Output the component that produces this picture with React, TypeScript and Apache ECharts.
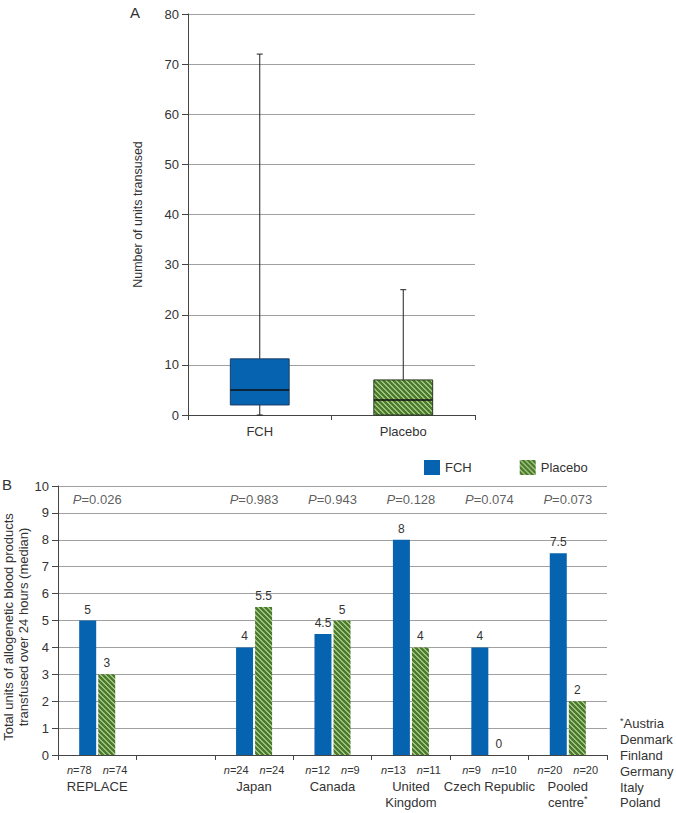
import React, { useEffect, useRef } from "react";
import * as echarts from "echarts";

// Panel A: box plot (min, Q1, median, Q3, max)
const boxCategories = ["FCH", "Placebo"];
const boxFCH = [0, 2, 5, 11.2, 72];
const boxPlacebo = [0, 0, 3, 7, 25];
const boxTicks = [0, 80, 10];

// Panel B: medians by region
const regions = ["REPLACE", "", "Japan", "Canada", "United\nKingdom", "Czech Republic", "Pooled\ncentre*"];
const fchMedian: (number | string)[] = [5, "-", 4, 4.5, 8, 4, 7.5];
const placeboMedian: (number | string)[] = [3, "-", 5.5, 5, 4, 0, 2];
const fchN = ["78", "", "24", "12", "13", "9", "20"];
const placeboN = ["74", "", "24", "9", "11", "10", "20"];
const pValues = ["0.026", "", "0.983", "0.943", "0.128", "0.074", "0.073"];
const pooledCountries = ["Austria", "Denmark", "Finland", "Germany", "Italy", "Poland"];

const FONT = "'Liberation Sans', Arial, Helvetica, sans-serif";
const BLUE = "#0663AF";
const TXT = "#333";

function makePattern() {
  const c = document.createElement("canvas");
  const s = 5;
  c.width = s;
  c.height = s;
  const ctx = c.getContext("2d")!;
  const img = ctx.createImageData(s, s);
  for (let y = 0; y < s; y++) {
    for (let x = 0; x < s; x++) {
      const k = (((x - y) % s) + s) % s;
      const light = k === 0 || k === 1;
      const i = (y * s + x) * 4;
      if (light) {
        img.data[i] = 0x9c; img.data[i + 1] = 0xc2; img.data[i + 2] = 0x7c;
      } else {
        img.data[i] = 0x4c; img.data[i + 1] = 0x7a; img.data[i + 2] = 0x2e;
      }
      img.data[i + 3] = 255;
    }
  }
  ctx.putImageData(img, 0, 0);
  return { image: c, repeat: "repeat" } as any;
}

export default function App() {
  const ref = useRef<HTMLDivElement>(null);
  useEffect(() => {
    if (!ref.current) return;
    const chart = echarts.init(ref.current, undefined, { renderer: "svg" });
    const pattern = makePattern();

    const boxData = [
      [0, ...boxFCH],
      [1, ...boxPlacebo],
    ];
    const pData = pValues
      .map((p, i) => (p ? [i, 9.5] : null))
      .filter((d) => d !== null) as number[][];

    const option: any = {
      animation: false,
      textStyle: { fontFamily: FONT, color: TXT },
      legend: {
        data: ["FCH", "Placebo"],
        left: 419,
        top: 455,
        itemWidth: 16,
        itemHeight: 15,
        itemGap: 48,
        icon: "rect",
        textStyle: { fontFamily: FONT, fontSize: 13, color: TXT },
      },
      grid: [
        { left: 188, top: 14, width: 287, height: 401 },
        { left: 58, top: 486, width: 549, height: 269 },
      ],
      xAxis: [
        {
          gridIndex: 0,
          type: "category",
          data: boxCategories,
          axisLine: { lineStyle: { color: "#444" } },
          axisTick: { show: true, length: 5, lineStyle: { color: "#444" } },
          axisLabel: { fontSize: 13, color: TXT, fontFamily: FONT, margin: 10 },
        },
        {
          gridIndex: 1,
          type: "category",
          data: regions,
          axisLine: { lineStyle: { color: "#444" } },
          axisTick: { show: true, length: 5, lineStyle: { color: "#444" } },
          axisLabel: {
            interval: 0,
            margin: 7,
            fontSize: 13,
            lineHeight: 16,
            color: TXT,
            fontFamily: FONT,
            formatter: (value: string, index: number) => {
              if (!value) return "";
              const name = value.replace("*", "{sup|*}");
              return `{i|n}{t|=${fchN[index]}}{g|}{i|n}{t|=${placeboN[index]}}\n${name}`;
            },
            rich: {
              i: { fontSize: 11, fontStyle: "italic", color: TXT, fontFamily: FONT, lineHeight: 16 },
              t: { fontSize: 11, color: TXT, fontFamily: FONT, lineHeight: 16 },
              g: { width: 11 },
              sup: { fontSize: 9, color: TXT, fontFamily: FONT, verticalAlign: "top", lineHeight: 16 },
            },
          },
        },
      ],
      yAxis: [
        {
          gridIndex: 0,
          type: "value",
          min: boxTicks[0],
          max: boxTicks[1],
          interval: boxTicks[2],
          name: "Number of units transused",
          nameLocation: "middle",
          nameGap: 44,
          nameTextStyle: { fontSize: 12.5, color: TXT, fontFamily: FONT },
          axisLine: { show: true, lineStyle: { color: "#444" } },
          axisTick: { show: true, length: 6, lineStyle: { color: "#444" } },
          axisLabel: { fontSize: 13, color: TXT, fontFamily: FONT, margin: 9 },
          splitLine: { lineStyle: { color: "#a0a0a0" } },
        },
        {
          gridIndex: 1,
          type: "value",
          min: 0,
          max: 10,
          interval: 1,
          axisLine: { show: true, lineStyle: { color: "#444" } },
          axisTick: { show: true, length: 6, lineStyle: { color: "#444" } },
          axisLabel: { fontSize: 13, color: TXT, fontFamily: FONT, margin: 9 },
          splitLine: { lineStyle: { color: "#a0a0a0" } },
        },
      ],
      series: [
        {
          name: "box",
          type: "custom",
          xAxisIndex: 0,
          yAxisIndex: 0,
          data: boxData,
          encode: { x: 0, y: [1, 2, 3, 4, 5] },
          renderItem: (params: any, api: any) => {
            const xi = api.value(0);
            const lo = api.coord([xi, api.value(1)]);
            const q1 = api.coord([xi, api.value(2)]);
            const med = api.coord([xi, api.value(3)]);
            const q3 = api.coord([xi, api.value(4)]);
            const hi = api.coord([xi, api.value(5)]);
            const bw = api.size([1, 0])[0] * 0.41;
            const cx = hi[0];
            const fill = params.dataIndex === 0 ? BLUE : pattern;
            const stroke = params.dataIndex === 0 ? "#1d3d66" : "#2a3a20";
            const ls = { stroke: "#222", lineWidth: 1 };
            return {
              type: "group",
              children: [
                { type: "line", shape: { x1: cx, y1: hi[1], x2: cx, y2: q3[1] }, style: ls },
                { type: "line", shape: { x1: cx - 3, y1: hi[1], x2: cx + 3, y2: hi[1] }, style: ls },
                { type: "line", shape: { x1: cx, y1: q1[1], x2: cx, y2: lo[1] }, style: ls },
                { type: "line", shape: { x1: cx - 3, y1: lo[1], x2: cx + 3, y2: lo[1] }, style: ls },
                {
                  type: "rect",
                  shape: { x: cx - bw / 2, y: q3[1], width: bw, height: q1[1] - q3[1] },
                  style: { fill, stroke, lineWidth: 1 },
                },
                {
                  type: "line",
                  shape: { x1: cx - bw / 2, y1: med[1], x2: cx + bw / 2, y2: med[1] },
                  style: { stroke: "#111", lineWidth: 1.6 },
                },
              ],
            };
          },
        },
        {
          name: "FCH",
          type: "bar",
          xAxisIndex: 1,
          yAxisIndex: 1,
          data: fchMedian,
          barWidth: 17,
          barGap: "12%",
          itemStyle: { color: BLUE },
          label: { show: true, position: "top", fontSize: 12, color: TXT, fontFamily: FONT, distance: 5 },
        },
        {
          name: "Placebo",
          type: "bar",
          xAxisIndex: 1,
          yAxisIndex: 1,
          data: placeboMedian,
          barWidth: 17,
          barGap: "12%",
          itemStyle: { color: pattern },
          label: { show: true, position: "top", fontSize: 12, color: TXT, fontFamily: FONT, distance: 5 },
        },
        {
          name: "pvals",
          type: "scatter",
          xAxisIndex: 1,
          yAxisIndex: 1,
          data: pData,
          symbolSize: 1,
          itemStyle: { color: "transparent" },
          silent: true,
          label: {
            show: true,
            position: "inside",
            fontSize: 13,
            color: TXT,
            fontFamily: FONT,
            formatter: (p: any) => `{i|P}=${pValues[p.data[0]]}`,
            rich: { i: { fontStyle: "italic", fontSize: 13, color: TXT, fontFamily: FONT } },
          },
        },
      ],
      graphic: [
        { type: "text", left: 130, top: 5, style: { text: "A", fontSize: 15, fill: TXT, fontFamily: FONT } },
        { type: "text", left: 2, top: 477, style: { text: "B", fontSize: 15, fill: TXT, fontFamily: FONT } },
        {
          type: "text",
          x: 16,
          y: 627,
          rotation: Math.PI / 2,
          style: {
            text: "Total units of allogenetic blood products\ntransfused over 24 hours (median)",
            fontSize: 13,
            lineHeight: 15,
            fill: TXT,
            fontFamily: FONT,
            align: "center",
            verticalAlign: "middle",
          },
        },
        {
          type: "text",
          left: 620,
          top: 716,
          style: {
            text: pooledCountries.map((c, i) => (i === 0 ? "{s|*}" + c : c)).join("\n"),
            fontSize: 13,
            lineHeight: 15.8,
            fill: TXT,
            fontFamily: FONT,
            rich: { s: { fontSize: 9, fill: TXT, fontFamily: FONT, verticalAlign: "top", lineHeight: 15.8 } },
          },
        },
      ],
    };
    chart.setOption(option);
    return () => chart.dispose();
  }, []);
  return (
    <div
      ref={ref}
      style={{ position: "absolute", left: 0, top: 0, width: 676, height: 813, background: "#fff" }}
    />
  );
}
